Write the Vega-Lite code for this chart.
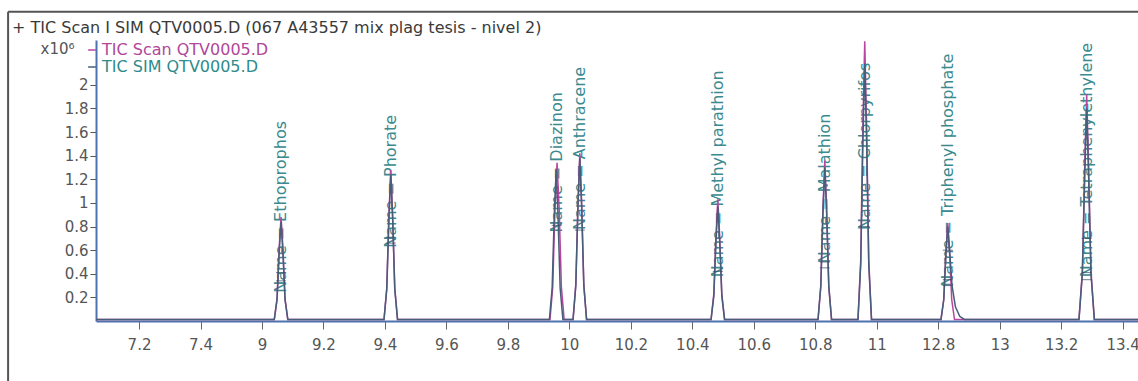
{
  "$schema": "https://vega.github.io/schema/vega-lite/v6.json",
  "width": 1042,
  "height": 281,
  "autosize": {"type": "none"},
  "padding": {"left": 96, "top": 40, "right": 0, "bottom": 60},
  "background": "white",
  "config": {"view": {"stroke": null}, "font": "DejaVu Sans"},
  "title": {
    "text": "+ TIC Scan I SIM QTV0005.D (067 A43557 mix plag tesis - nivel 2)",
    "anchor": "start", "frame": "group", "dx": -84, "dy": 41, "offset": 0,
    "baseline": "bottom", "fontSize": 16, "fontWeight": "normal", "color": "#3a3a3a", "font": "DejaVu Sans"
  },
  "datasets": {
    "curves": [
      {"s":"Scan","t":8.46,"v":0.012},
      {"s":"Scan","t":9.040,"v":0.012},{"s":"Scan","t":9.049,"v":0.19},{"s":"Scan","t":9.056,"v":0.62},{"s":"Scan","t":9.062,"v":0.88},{"s":"Scan","t":9.068,"v":0.62},{"s":"Scan","t":9.075,"v":0.19},{"s":"Scan","t":9.084,"v":0.012},
      {"s":"Scan","t":9.397,"v":0.012},{"s":"Scan","t":9.406,"v":0.28},{"s":"Scan","t":9.413,"v":0.9},{"s":"Scan","t":9.419,"v":1.28},{"s":"Scan","t":9.425,"v":0.9},{"s":"Scan","t":9.432,"v":0.28},{"s":"Scan","t":9.441,"v":0.012},
      {"s":"Scan","t":9.937,"v":0.012},{"s":"Scan","t":9.946,"v":0.29},{"s":"Scan","t":9.953,"v":0.94},{"s":"Scan","t":9.960,"v":1.34},{"s":"Scan","t":9.967,"v":0.94},{"s":"Scan","t":9.974,"v":0.29},{"s":"Scan","t":9.983,"v":0.012},
      {"s":"Scan","t":10.012,"v":0.012},{"s":"Scan","t":10.021,"v":0.31},{"s":"Scan","t":10.028,"v":0.99},{"s":"Scan","t":10.034,"v":1.42},{"s":"Scan","t":10.040,"v":0.99},{"s":"Scan","t":10.047,"v":0.31},{"s":"Scan","t":10.056,"v":0.012},
      {"s":"Scan","t":10.461,"v":0.012},{"s":"Scan","t":10.470,"v":0.23},{"s":"Scan","t":10.477,"v":0.72},{"s":"Scan","t":10.483,"v":1.03},{"s":"Scan","t":10.489,"v":0.72},{"s":"Scan","t":10.496,"v":0.23},{"s":"Scan","t":10.505,"v":0.012},
      {"s":"Scan","t":10.809,"v":0.012},{"s":"Scan","t":10.818,"v":0.30},{"s":"Scan","t":10.825,"v":0.95},{"s":"Scan","t":10.831,"v":1.36},{"s":"Scan","t":10.837,"v":0.95},{"s":"Scan","t":10.844,"v":0.30},{"s":"Scan","t":10.853,"v":0.012},
      {"s":"Scan","t":10.939,"v":0.012},{"s":"Scan","t":10.948,"v":0.52},{"s":"Scan","t":10.955,"v":1.66},{"s":"Scan","t":10.961,"v":2.37},{"s":"Scan","t":10.967,"v":1.66},{"s":"Scan","t":10.974,"v":0.52},{"s":"Scan","t":10.983,"v":0.012},
      {"s":"Scan","t":11.209,"v":0.012},{"s":"Scan","t":11.218,"v":0.18},{"s":"Scan","t":11.225,"v":0.58},{"s":"Scan","t":11.231,"v":0.83},{"s":"Scan","t":11.237,"v":0.58},{"s":"Scan","t":11.244,"v":0.18},{"s":"Scan","t":11.253,"v":0.012},
      {"s":"Scan","t":11.658,"v":0.012},{"s":"Scan","t":11.669,"v":0.42},{"s":"Scan","t":11.677,"v":1.34},{"s":"Scan","t":11.683,"v":1.92},{"s":"Scan","t":11.689,"v":1.34},{"s":"Scan","t":11.697,"v":0.42},{"s":"Scan","t":11.708,"v":0.012},
      {"s":"Scan","t":11.85,"v":0.012},
      {"s":"SIM","t":8.46,"v":0.012},
      {"s":"SIM","t":9.040,"v":0.012},{"s":"SIM","t":9.049,"v":0.18},{"s":"SIM","t":9.056,"v":0.59},{"s":"SIM","t":9.062,"v":0.84},{"s":"SIM","t":9.068,"v":0.59},{"s":"SIM","t":9.075,"v":0.18},{"s":"SIM","t":9.084,"v":0.012},
      {"s":"SIM","t":9.397,"v":0.012},{"s":"SIM","t":9.406,"v":0.27},{"s":"SIM","t":9.413,"v":0.87},{"s":"SIM","t":9.419,"v":1.24},{"s":"SIM","t":9.425,"v":0.87},{"s":"SIM","t":9.432,"v":0.27},{"s":"SIM","t":9.441,"v":0.012},
      {"s":"SIM","t":9.935,"v":0.012},{"s":"SIM","t":9.944,"v":0.28},{"s":"SIM","t":9.951,"v":0.9},{"s":"SIM","t":9.957,"v":1.28},{"s":"SIM","t":9.963,"v":0.9},{"s":"SIM","t":9.970,"v":0.28},{"s":"SIM","t":9.979,"v":0.012},
      {"s":"SIM","t":10.012,"v":0.012},{"s":"SIM","t":10.021,"v":0.30},{"s":"SIM","t":10.028,"v":0.97},{"s":"SIM","t":10.034,"v":1.38},{"s":"SIM","t":10.040,"v":0.97},{"s":"SIM","t":10.047,"v":0.30},{"s":"SIM","t":10.056,"v":0.012},
      {"s":"SIM","t":10.461,"v":0.012},{"s":"SIM","t":10.470,"v":0.21},{"s":"SIM","t":10.477,"v":0.68},{"s":"SIM","t":10.483,"v":0.97},{"s":"SIM","t":10.489,"v":0.68},{"s":"SIM","t":10.496,"v":0.21},{"s":"SIM","t":10.505,"v":0.012},
      {"s":"SIM","t":10.809,"v":0.012},{"s":"SIM","t":10.818,"v":0.29},{"s":"SIM","t":10.825,"v":0.91},{"s":"SIM","t":10.831,"v":1.30},{"s":"SIM","t":10.837,"v":0.91},{"s":"SIM","t":10.844,"v":0.29},{"s":"SIM","t":10.853,"v":0.012},
      {"s":"SIM","t":10.939,"v":0.012},{"s":"SIM","t":10.948,"v":0.48},{"s":"SIM","t":10.955,"v":1.53},{"s":"SIM","t":10.961,"v":2.18},{"s":"SIM","t":10.967,"v":1.53},{"s":"SIM","t":10.974,"v":0.48},{"s":"SIM","t":10.983,"v":0.012},
      {"s":"SIM","t":11.209,"v":0.012},{"s":"SIM","t":11.218,"v":0.18},{"s":"SIM","t":11.225,"v":0.56},{"s":"SIM","t":11.231,"v":0.80},{"s":"SIM","t":11.237,"v":0.60},{"s":"SIM","t":11.245,"v":0.30},{"s":"SIM","t":11.256,"v":0.12},{"s":"SIM","t":11.27,"v":0.04},{"s":"SIM","t":11.285,"v":0.013},
      {"s":"SIM","t":11.658,"v":0.012},{"s":"SIM","t":11.669,"v":0.40},{"s":"SIM","t":11.677,"v":1.26},{"s":"SIM","t":11.683,"v":1.80},{"s":"SIM","t":11.689,"v":1.26},{"s":"SIM","t":11.697,"v":0.40},{"s":"SIM","t":11.708,"v":0.012},
      {"s":"SIM","t":11.85,"v":0.012}
    ],
    "markers": [
      {"t":9.062,"v":0.41},{"t":9.062,"v":0.34},
      {"t":9.419,"v":0.71},{"t":9.419,"v":0.66},
      {"t":9.959,"v":0.81},
      {"t":10.034,"v":0.77},
      {"t":10.483,"v":0.42},
      {"t":10.831,"v":0.50},{"t":10.831,"v":0.45},
      {"t":10.961,"v":0.80},
      {"t":11.231,"v":0.35},{"t":11.231,"v":0.30},{"t":11.231,"v":0.60},
      {"t":11.683,"v":0.41},{"t":11.683,"v":0.35},{"t":11.683,"v":0.70}
    ],
    "labels": [
      {"name":"Name = Ethoprophos","t":9.062,"v":0.24},
      {"name":"Name = Phorate","t":9.419,"v":0.62},
      {"name":"Name = Diazinon","t":9.959,"v":0.75},
      {"name":"Name = Anthracene","t":10.034,"v":0.77},
      {"name":"Name = Methyl parathion","t":10.483,"v":0.37},
      {"name":"Name = Malathion","t":10.831,"v":0.49},
      {"name":"Name = Chlorpyrifos","t":10.961,"v":0.77},
      {"name":"Name = Triphenyl phosphate","t":11.231,"v":0.29},
      {"name":"Name = Tetraphenylethylene","t":11.683,"v":0.37}
    ]
  },
  "layer": [
    {
      "data": {"name": "labels"},
      "mark": {"type": "text", "angle": 270, "align": "left", "baseline": "middle", "fontSize": 16, "font": "DejaVu Sans", "color": "#3a8a8f"},
      "encoding": {
        "x": {"field": "t", "type": "quantitative",
          "scale": {"domain": [8.46, 11.85], "nice": false, "zero": false},
          "axis": {"title": null, "values": [8.6,8.8,9.0,9.2,9.4,9.6,9.8,10.0,10.2,10.4,10.6,10.8,11.0,11.2,11.4,11.6,11.8],
            "tickCount": 40,
            "labelExpr": "format(datum.value < 8.9 ? datum.value - 1.4 : (datum.value > 11.1 ? datum.value + 1.6 : datum.value), '.1~f')",
            "grid": false, "tickSize": 8, "tickColor": "#666666", "labelPadding": 8, "labelFontSize": 15, "labelColor": "#555555",
            "labelFont": "DejaVu Sans", "labelFlush": false, "labelOverlap": false, "domainColor": "#4c72b0", "domainWidth": 2}},
        "y": {"field": "v", "type": "quantitative",
          "scale": {"domain": [0, 2.38], "nice": false, "zero": true},
          "axis": {"title": "x10⁶", "values": [0.2,0.4,0.6,0.8,1.0,1.2,1.4,1.6,1.8,2.0], "tickCount": 20,
            "labelExpr": "format(datum.value, '.1~f')",
            "grid": false, "tickSize": 6, "tickColor": "#555555", "labelPadding": 2, "labelFontSize": 15, "labelColor": "#555555",
            "labelFont": "DejaVu Sans", "labelOverlap": false, "labelFlush": false, "domainColor": "#4c72b0", "domainWidth": 2,
            "titleAngle": 0, "titleX": -56, "titleY": 8, "titleAlign": "left", "titleBaseline": "middle",
            "titleFontSize": 15, "titleFontWeight": "normal", "titleColor": "#555555", "titleFont": "DejaVu Sans"}},
        "text": {"field": "name", "type": "nominal"}
      }
    },
    {
      "data": {"name": "curves"},
      "transform": [{"filter": "datum.s == 'Scan'"}],
      "mark": {"type": "line", "strokeWidth": 1.5},
      "encoding": {
        "x": {"field": "t", "type": "quantitative"},
        "y": {"field": "v", "type": "quantitative"},
        "color": {"field": "s", "type": "nominal",
          "scale": {"domain": ["Scan", "SIM"], "range": ["#b8459e", "#475d78"]},
          "legend": {"orient": "none", "legendX": -12, "legendY": 2, "title": null, "symbolType": "stroke",
            "symbolSize": 60, "symbolStrokeWidth": 1.5, "labelFontSize": 16, "labelFont": "DejaVu Sans",
            "labelExpr": "datum.value == 'Scan' ? 'TIC Scan QTV0005.D' : 'TIC SIM QTV0005.D'",
            "labelColor": {"expr": "datum.value == 'Scan' ? '#b0479a' : '#2e8b8b'"},
            "rowPadding": 1, "padding": 0, "labelLimit": 400, "labelOffset": 2}}
      }
    },
    {
      "data": {"name": "curves"},
      "transform": [{"filter": "datum.s == 'SIM'"}],
      "mark": {"type": "line", "strokeWidth": 1.5},
      "encoding": {
        "x": {"field": "t", "type": "quantitative"},
        "y": {"field": "v", "type": "quantitative"},
        "color": {"field": "s", "type": "nominal"}
      }
    },
    {
      "data": {"name": "markers"},
      "mark": {"type": "tick", "orient": "horizontal", "size": 10, "thickness": 1, "color": "#34495e"},
      "encoding": {
        "x": {"field": "t", "type": "quantitative"},
        "y": {"field": "v", "type": "quantitative"}
      }
    },
    {
      "data": {"values": [{}]},
      "mark": {"type": "rule", "color": "#555555", "strokeWidth": 2},
      "encoding": {
        "x": {"datum": 8.174, "type": "quantitative"},
        "x2": {"datum": 11.9},
        "y": {"datum": 2.619, "type": "quantitative"}
      }
    },
    {
      "data": {"values": [{}]},
      "mark": {"type": "rule", "color": "#555555", "strokeWidth": 2},
      "encoding": {
        "x": {"datum": 8.174, "type": "quantitative"},
        "y": {"datum": 2.619, "type": "quantitative"},
        "y2": {"datum": -0.508}
      }
    }
  ]
}
